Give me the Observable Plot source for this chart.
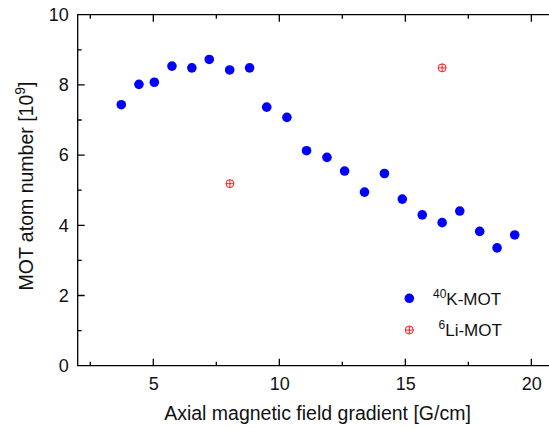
<!DOCTYPE html>
<html><head><meta charset="utf-8">
<script src="https://cdn.jsdelivr.net/npm/d3@7"></script>
<script src="https://cdn.jsdelivr.net/npm/@observablehq/plot@0.6"></script>
<style>
body{margin:0;background:#fff;font-family:"Liberation Sans",Arial,sans-serif}
#chart{position:relative;width:549px;height:428px}
</style>
</head><body><div id="chart"></div>
<script>
// Data
const kGradient = [3.71,4.41,5.02,5.72,6.51,7.20,8.01,8.80,9.48,10.28,11.06,11.87,12.57,13.36,14.15,14.86,15.65,16.44,17.14,17.93,18.62,19.32];
const kAtoms    = [7.45,8.03,8.09,8.55,8.50,8.74,8.44,8.50,7.38,7.09,6.14,5.95,5.56,4.96,5.49,4.76,4.31,4.09,4.42,3.84,3.37,3.74];
const liGradient = [8.02,16.44];
const liAtoms    = [5.20,8.50];
const xTicks = [5,10,15,20];
const xMinor = [2.5,7.5,12.5,17.5];
const yTicks = [0,2,4,6,8,10];
const yMinor = [1,3,5,7,9];
const seriesNames = ["40K-MOT","6Li-MOT"];

const kData = kGradient.map((x,i)=>({x, y:kAtoms[i]}));
const liData = liGradient.map((x,i)=>({x, y:liAtoms[i]}));

const circlePlus = {
  draw(ctx, size) {
    const r = Math.sqrt(size/Math.PI);
    ctx.moveTo(r,0); ctx.arc(0,0,r,0,2*Math.PI);
    ctx.moveTo(-r,0); ctx.lineTo(r,0);
    ctx.moveTo(0,-r); ctx.lineTo(0,r);
  }
};

const axisColor = "#000";
const sw = 1.3;
const fsTick = 18;
const fsTitle = 19.5;
const fsLegend = 17;
const xDom = [2, 20.7], yDom = [0, 10];

const plot = Plot.plot({
  width: 549, height: 428,
  marginLeft: 77.7, marginRight: 0, marginTop: 14.7, marginBottom: 62.3,
  style: {fontFamily: '"Liberation Sans", Arial, sans-serif', fontSize: fsTick+"px", color: "#111", background: "#fff"},
  x: {domain: xDom},
  y: {domain: yDom},
  marks: [
    Plot.axisX({ticks: xTicks, anchor: "bottom", tickSize: 0, tickPadding: 11.5, label: null, fill: "#111", fontSize: fsTick}),
    Plot.axisY({ticks: yTicks, anchor: "left", tickSize: 0, tickPadding: 9.5, label: null, fill: "#111", fontSize: fsTick}),
    Plot.dot(kData, {x: "x", y: "y", r: 4.8, fill: "#0000ff", stroke: "none"}),
    Plot.dot(liData, {x: "x", y: "y", r: 4, symbol: circlePlus, fill: "none", stroke: "#ff1a1a", strokeWidth: 1})
  ]
});

const svg = d3.select(plot);
const sx = plot.scale("x"), sy = plot.scale("y");
const X = v => sx.apply(v), Y = v => sy.apply(v);
const x0 = X(xDom[0]), x1 = X(xDom[1]), y0 = Y(yDom[0]), y1 = Y(yDom[1]);

// frame (left, bottom, top) and inward ticks, drawn with Plot's scales
let d = `M${x1},${y1}H${x0}V${y0}H${x1}`;
xTicks.forEach(v => { d += `M${X(v)},${y0}v-7M${X(v)},${y1}v7`; });
xMinor.forEach(v => { d += `M${X(v)},${y0}v-4M${X(v)},${y1}v4`; });
yTicks.forEach(v => { d += `M${x0},${Y(v)}h7`; });
yMinor.forEach(v => { d += `M${x0},${Y(v)}h4`; });
svg.insert("path", ":first-child")
  .attr("d", d).attr("fill", "none").attr("stroke", axisColor).attr("stroke-width", sw);

// axis titles
svg.append("text")
  .attr("x", 317.5).attr("y", 420)
  .attr("text-anchor", "middle").attr("fill", "#111")
  .style("font-size", fsTitle+"px")
  .text("Axial magnetic field gradient [G/cm]");
const yt = svg.append("text")
  .attr("transform", "translate(33,186) rotate(-90)")
  .attr("text-anchor", "middle").attr("fill", "#111")
  .style("font-size", fsTitle+"px");
yt.append("tspan").text("MOT atom number [10");
yt.append("tspan").attr("dy", -8).style("font-size", "14px").text("9");
yt.append("tspan").attr("dy", 8).text("]");

// legend
const lg = svg.append("g").attr("text-anchor", "start");
lg.append("circle").attr("cx", 409.3).attr("cy", 298.3).attr("r", 4.8).attr("fill", "#0000ff");
const l1 = lg.append("text").attr("x", 433).attr("y", 304.5).attr("fill", "#111").style("font-size", fsLegend+"px");
l1.append("tspan").attr("dy", -7).style("font-size", "12px").text(seriesNames[0].slice(0,2));
l1.append("tspan").attr("dy", 7).text(seriesNames[0].slice(2));
const g2 = lg.append("g").attr("transform", "translate(409.3,330)");
g2.append("path").attr("d", d3.symbol(circlePlus, Math.PI*16)()).attr("fill", "none").attr("stroke", "#ff1a1a").attr("stroke-width", 1);
const l2 = lg.append("text").attr("x", 438.5).attr("y", 336).attr("fill", "#111").style("font-size", fsLegend+"px");
l2.append("tspan").attr("dy", -7).style("font-size", "12px").text(seriesNames[1].slice(0,1));
l2.append("tspan").attr("dy", 7).text(seriesNames[1].slice(1));

document.getElementById("chart").appendChild(plot);
</script>
</body></html>
